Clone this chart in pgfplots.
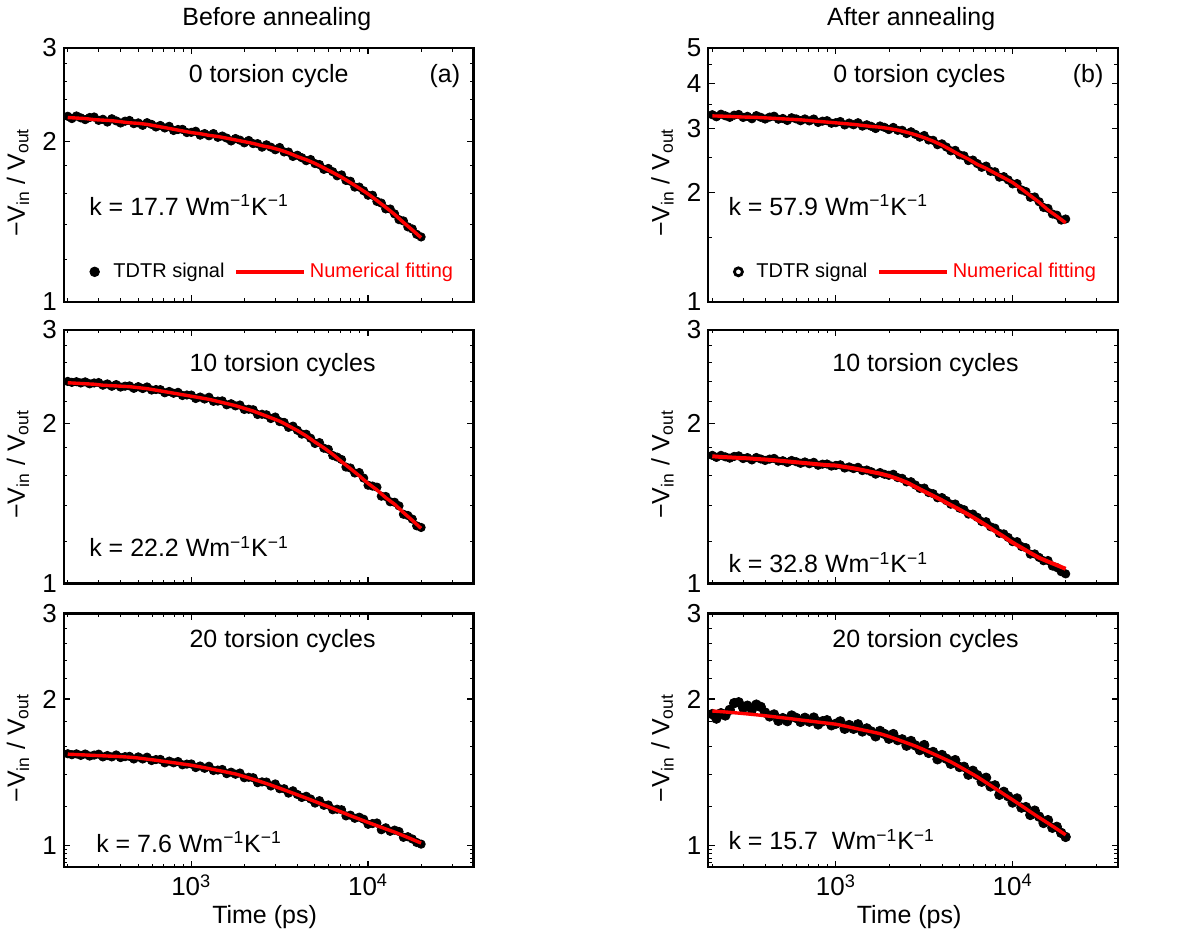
\documentclass[border=0pt]{standalone}
\usepackage{fontspec}
\setmainfont{Liberation Sans}
\usepackage{pgfplots}
\usepackage{pgfplotstable}
\pgfplotsset{compat=1.18}

\pgfplotstableread{
x a b c d e f
200 2.232 3.274 2.399 1.742 1.543 1.862
211 2.210 3.232 2.389 1.727 1.536 1.823
224 2.235 3.285 2.396 1.742 1.542 1.870
237 2.217 3.252 2.383 1.731 1.531 1.850
251 2.200 3.220 2.394 1.721 1.541 1.900
266 2.220 3.265 2.374 1.734 1.526 1.962
282 2.225 3.280 2.383 1.738 1.533 1.970
299 2.193 3.218 2.387 1.718 1.540 1.919
316 2.203 3.241 2.360 1.725 1.520 1.938
335 2.177 3.192 2.373 1.708 1.530 1.903
355 2.208 3.256 2.349 1.726 1.520 1.948
376 2.188 3.221 2.366 1.715 1.534 1.927
398 2.168 3.186 2.341 1.704 1.515 1.876
422 2.185 3.225 2.350 1.714 1.522 1.842
447 2.192 3.244 2.353 1.719 1.524 1.859
473 2.162 3.183 2.328 1.699 1.505 1.804
501 2.169 3.198 2.345 1.702 1.520 1.827
531 2.146 3.157 2.326 1.689 1.505 1.801
562 2.171 3.212 2.342 1.704 1.518 1.850
596 2.155 3.189 2.311 1.695 1.494 1.829
631 2.131 3.152 2.316 1.683 1.501 1.795
668 2.145 3.188 2.315 1.693 1.502 1.830
708 2.122 3.149 2.284 1.680 1.478 1.797
750 2.137 3.186 2.297 1.690 1.490 1.832
794 2.099 3.118 2.279 1.669 1.478 1.773
841 2.108 3.144 2.288 1.677 1.487 1.800
891 2.109 3.153 2.257 1.678 1.464 1.809
944 2.080 3.102 2.262 1.663 1.469 1.766
1000 2.082 3.114 2.261 1.668 1.470 1.779
1059 2.092 3.136 2.228 1.672 1.445 1.799
1122 2.057 3.069 2.242 1.649 1.456 1.737
1189 2.071 3.106 2.223 1.657 1.440 1.768
1259 2.051 3.072 2.240 1.645 1.454 1.737
1334 2.071 3.112 2.201 1.654 1.425 1.774
1413 2.038 3.046 2.203 1.631 1.428 1.715
1496 2.049 3.072 2.205 1.635 1.432 1.740
1585 2.031 3.042 2.168 1.623 1.404 1.715
1679 2.006 3.000 2.178 1.606 1.414 1.676
1778 2.027 3.049 2.158 1.617 1.400 1.719
1884 2.013 3.022 2.166 1.605 1.408 1.695
1995 1.990 2.980 2.125 1.598 1.377 1.657
2113 2.010 3.021 2.127 1.605 1.380 1.694
2239 1.983 2.966 2.122 1.582 1.377 1.646
2371 1.983 2.966 2.079 1.577 1.345 1.652
2512 1.953 2.906 2.081 1.553 1.350 1.603
2661 1.973 2.938 2.076 1.554 1.349 1.639
2818 1.953 2.891 2.043 1.532 1.324 1.605
2985 1.931 2.840 2.056 1.510 1.337 1.570
3162 1.950 2.870 2.016 1.512 1.307 1.608
3350 1.913 2.790 2.009 1.483 1.307 1.549
3548 1.912 2.784 1.967 1.476 1.280 1.556
3758 1.876 2.707 1.977 1.450 1.294 1.503
3981 1.886 2.722 1.942 1.451 1.272 1.534
4217 1.866 2.668 1.910 1.432 1.254 1.507
4467 1.842 2.604 1.909 1.410 1.261 1.471
4732 1.851 2.612 1.876 1.411 1.245 1.497
5012 1.819 2.538 1.834 1.386 1.221 1.449
5309 1.811 2.523 1.841 1.377 1.235 1.450
5623 1.774 2.448 1.797 1.351 1.208 1.397
5957 1.781 2.456 1.788 1.351 1.210 1.423
6310 1.756 2.402 1.741 1.332 1.183 1.394
6683 1.725 2.346 1.729 1.308 1.186 1.351
7079 1.732 2.364 1.711 1.307 1.183 1.377
7499 1.691 2.287 1.656 1.279 1.149 1.321
7943 1.685 2.280 1.649 1.271 1.153 1.328
8414 1.643 2.204 1.614 1.243 1.136 1.270
8913 1.643 2.211 1.617 1.240 1.142 1.288
9441 1.617 2.166 1.579 1.221 1.131 1.261
10000 1.586 2.112 1.531 1.199 1.104 1.224
10593 1.586 2.116 1.525 1.199 1.108 1.248
11220 1.544 2.033 1.518 1.174 1.111 1.195
11885 1.533 2.012 1.460 1.168 1.076 1.198
12589 1.495 1.940 1.458 1.136 1.086 1.154
13335 1.494 1.944 1.425 1.137 1.068 1.178
14125 1.463 1.886 1.422 1.120 1.074 1.145
14962 1.427 1.819 1.400 1.104 1.067 1.111
15849 1.419 1.808 1.350 1.105 1.038 1.126
16788 1.383 1.745 1.343 1.079 1.041 1.086
17783 1.371 1.732 1.322 1.072 1.030 1.091
18836 1.339 1.679 1.284 1.053 1.013 1.060
19953 1.324 1.690 1.275 1.043 1.005 1.040
}\scatdata

\pgfplotstableread{
x a b c d e f
200 2.220 3.250 2.385 1.735 1.540 1.890
224 2.215 3.245 2.380 1.730 1.537 1.884
251 2.210 3.240 2.375 1.727 1.534 1.878
282 2.200 3.230 2.370 1.723 1.531 1.871
316 2.195 3.225 2.360 1.720 1.528 1.864
355 2.190 3.220 2.355 1.715 1.525 1.856
398 2.180 3.210 2.350 1.711 1.522 1.848
447 2.170 3.200 2.345 1.706 1.518 1.839
501 2.165 3.190 2.335 1.700 1.512 1.830
562 2.155 3.180 2.325 1.694 1.504 1.821
631 2.140 3.170 2.310 1.688 1.496 1.811
708 2.125 3.155 2.295 1.682 1.487 1.802
794 2.110 3.140 2.280 1.676 1.479 1.793
891 2.095 3.125 2.265 1.670 1.470 1.784
1000 2.080 3.110 2.250 1.667 1.461 1.775
1122 2.070 3.095 2.235 1.657 1.450 1.760
1259 2.055 3.080 2.220 1.647 1.438 1.744
1413 2.045 3.060 2.200 1.635 1.426 1.728
1585 2.030 3.040 2.180 1.622 1.414 1.713
1778 2.015 3.025 2.160 1.610 1.402 1.697
1995 2.000 3.000 2.135 1.594 1.385 1.675
2239 1.985 2.970 2.110 1.573 1.367 1.650
2512 1.965 2.930 2.080 1.550 1.349 1.625
2818 1.950 2.885 2.050 1.520 1.330 1.600
3162 1.930 2.830 2.020 1.490 1.310 1.572
3548 1.905 2.770 1.980 1.462 1.290 1.543
3981 1.875 2.700 1.940 1.434 1.270 1.514
4467 1.850 2.620 1.895 1.405 1.250 1.485
5012 1.820 2.540 1.845 1.377 1.230 1.451
5623 1.785 2.470 1.800 1.348 1.210 1.417
6310 1.750 2.390 1.750 1.318 1.190 1.383
7079 1.715 2.330 1.695 1.287 1.170 1.346
7943 1.675 2.260 1.645 1.255 1.150 1.310
8913 1.635 2.195 1.595 1.225 1.132 1.274
10000 1.595 2.130 1.543 1.194 1.114 1.240
11220 1.550 2.045 1.500 1.168 1.097 1.206
12589 1.505 1.960 1.450 1.142 1.080 1.172
14125 1.460 1.880 1.410 1.118 1.064 1.140
15849 1.410 1.790 1.360 1.100 1.046 1.110
17783 1.365 1.720 1.315 1.083 1.028 1.080
19953 1.320 1.650 1.270 1.066 1.010 1.050
}\fitdata

\newcommand{\kval}[1]{k = #1 Wm\textsuperscript{−1}K\textsuperscript{−1}}
\newcommand{\ylab}{−V\textsubscript{in} / V\textsubscript{out}}

\pgfplotsset{
  every axis title/.style={at={(0.5,1)}, anchor=center, font=\fontsize{12.5}{14}\selectfont},
  every axis/.append style={
    scale only axis, width=205pt, height=127pt,
    xmin=190, xmax=39500,
    xtick={1000,10000},
    minor xtick={200,300,400,500,600,700,800,900,2000,3000,4000,5000,6000,7000,8000,9000,20000,30000},
    axis line style={line width=1.1pt},
    major tick style={black, line width=0.6pt},
    minor tick style={black, line width=0.5pt},
    major tick length=3.2pt, minor tick length=1.8pt,
    tick align=inside,
    clip marker paths=true,
    tick label style={font=\fontsize{13}{15}\selectfont},
    ylabel style={font=\fontsize{12.5}{14}\selectfont, at={(axis description cs:-0.112,0.47)}, anchor=center},
    xlabel style={font=\fontsize{12.5}{14}\selectfont, at={(axis description cs:0.49,-0.197)}, anchor=center},
  },
}

\begin{document}
\begin{tikzpicture}[font=\fontsize{12.5}{15}\selectfont]
\path (0,0) rectangle (600pt,468pt);

% (a) top left
\begin{semilogxaxis}[ymode=log, at={(31.5pt,317pt)}, anchor=south west, ymin=1, ymax=3,
  title={Before annealing}, title style={at={(axis description cs:0.52,1.115)}},
  xticklabels={,,}, ytick={1,2,3}, yticklabels={1,2,3},
  minor ytick={1.2,1.4,1.6,1.8,2.2,2.4,2.6,2.8}, ylabel={\ylab},
  legend columns=2, legend cell align=left,
  legend style={draw=none, fill=none, font=\fontsize{10}{12}\selectfont,
    at={(axis description cs:0.048,0.118)}, anchor=west}]
\addplot[only marks, mark=*, mark size=2.1pt, black, mark options={fill=black},
  legend image code/.code={\draw[black, mark=*, mark size=2.4pt, mark options={fill=black}] plot coordinates {(2.5pt,0pt)};}]
  table[x=x, y=a] {\scatdata};
\addlegendentry{\rule{5pt}{0pt}TDTR signal\rule{3pt}{0pt}}
\addplot[no marks, red, line width=1.7pt,
  legend image code/.code={\draw[red, line width=1.7pt] (0pt,0pt) -- (34pt,0pt);}]
  table[x=x, y=a] {\fitdata};
\addlegendentry{\textcolor{red}{Numerical fitting}}
\node at (axis description cs:0.5,0.89) {0 torsion cycle};
\node at (axis description cs:0.93,0.89) {(a)};
\node[anchor=west] at (axis description cs:0.045,0.38) {\kval{17.7}};
\end{semilogxaxis}

% (b) top right
\begin{semilogxaxis}[ymode=log, at={(354pt,317pt)}, anchor=south west, ymin=1, ymax=5,
  title={After annealing}, title style={at={(axis description cs:0.495,1.115)}},
  xticklabels={,,}, ytick={1,2,3,4,5}, yticklabels={1,2,3,4,5},
  minor ytick={1.5,2.5,3.5,4.5}, ylabel={\ylab},
  legend columns=2, legend cell align=left,
  legend style={draw=none, fill=none, font=\fontsize{10}{12}\selectfont,
    at={(axis description cs:0.048,0.118)}, anchor=west}]
\addplot[only marks, mark=*, mark size=2.1pt, black, mark options={fill=black},
  legend image code/.code={\draw[black, mark=o, mark size=2.0pt, mark options={line width=1.4pt}] plot coordinates {(2.5pt,0pt)};}]
  table[x=x, y=b] {\scatdata};
\addlegendentry{\rule{5pt}{0pt}TDTR signal\rule{3pt}{0pt}}
\addplot[no marks, red, line width=1.7pt,
  legend image code/.code={\draw[red, line width=1.7pt] (0pt,0pt) -- (34pt,0pt);}]
  table[x=x, y=b] {\fitdata};
\addlegendentry{\textcolor{red}{Numerical fitting}}
\node at (axis description cs:0.515,0.89) {0 torsion cycles};
\node at (axis description cs:0.927,0.89) {(b)};
\node[anchor=west] at (axis description cs:0.032,0.38) {\kval{57.9}};
\end{semilogxaxis}

% middle left
\begin{semilogxaxis}[ymode=log, at={(31.5pt,176pt)}, anchor=south west, ymin=1, ymax=3,
  xticklabels={,,}, ytick={1,2,3}, yticklabels={1,2,3},
  minor ytick={1.2,1.4,1.6,1.8,2.2,2.4,2.6,2.8}, ylabel={\ylab}]
\addplot[only marks, mark=*, mark size=2.1pt, black, mark options={fill=black}] table[x=x, y=c] {\scatdata};
\addplot[no marks, red, line width=1.7pt] table[x=x, y=c] {\fitdata};
\node at (axis description cs:0.534,0.862) {10 torsion cycles};
\node[anchor=west] at (axis description cs:0.045,0.146) {\kval{22.2}};
\end{semilogxaxis}

% middle right
\begin{semilogxaxis}[ymode=log, at={(354pt,176pt)}, anchor=south west, ymin=1, ymax=3,
  xticklabels={,,}, ytick={1,2,3}, yticklabels={1,2,3},
  minor ytick={1.2,1.4,1.6,1.8,2.2,2.4,2.6,2.8}, ylabel={\ylab}]
\addplot[only marks, mark=*, mark size=2.1pt, black, mark options={fill=black}] table[x=x, y=d] {\scatdata};
\addplot[no marks, red, line width=2pt] table[x=x, y=d] {\fitdata};
\node at (axis description cs:0.53,0.862) {10 torsion cycles};
\node[anchor=west] at (axis description cs:0.032,0.083) {\kval{32.8}};
\end{semilogxaxis}

% bottom left
\begin{semilogxaxis}[ymode=log, at={(31.5pt,34pt)}, anchor=south west, ymin=0.9, ymax=3,
  xticklabels={10\textsuperscript{3},10\textsuperscript{4}}, xlabel={Time (ps)},
  ytick={1,2,3}, yticklabels={1,2,3},
  minor ytick={0.92,0.94,0.96,0.98,1.2,1.4,1.6,1.8,2.2,2.4,2.6,2.8}, ylabel={\ylab}]
\addplot[only marks, mark=*, mark size=2.1pt, black, mark options={fill=black}] table[x=x, y=e] {\scatdata};
\addplot[no marks, red, line width=1.7pt] table[x=x, y=e] {\fitdata};
\node at (axis description cs:0.534,0.89) {20 torsion cycles};
\node[anchor=west] at (axis description cs:0.062,0.1) {\kval{7.6}};
\end{semilogxaxis}

% bottom right
\begin{semilogxaxis}[ymode=log, at={(354pt,34pt)}, anchor=south west, ymin=0.9, ymax=3,
  xticklabels={10\textsuperscript{3},10\textsuperscript{4}}, xlabel={Time (ps)},
  ytick={1,2,3}, yticklabels={1,2,3},
  minor ytick={0.92,0.94,0.96,0.98,1.2,1.4,1.6,1.8,2.2,2.4,2.6,2.8}, ylabel={\ylab}]
\addplot[only marks, mark=*, mark size=2.4pt, black, mark options={fill=black}] table[x=x, y=f] {\scatdata};
\addplot[no marks, red, line width=1.7pt] table[x=x, y=f] {\fitdata};
\node at (axis description cs:0.53,0.89) {20 torsion cycles};
\node[anchor=west] at (axis description cs:0.032,0.11) {k = 15.7\ \ Wm\textsuperscript{−1}K\textsuperscript{−1}};
\end{semilogxaxis}
\end{tikzpicture}
\end{document}
